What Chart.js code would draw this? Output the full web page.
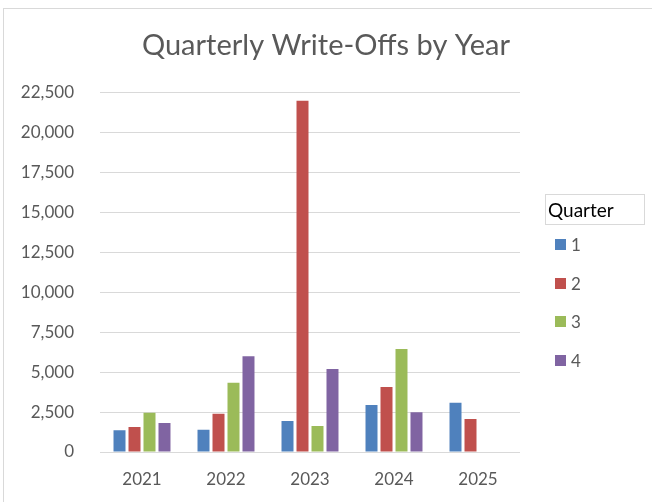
<!DOCTYPE html>
<html>
<head>
<meta charset="utf-8">
<script src="https://cdn.jsdelivr.net/npm/chart.js@4/dist/chart.umd.min.js"></script>
<style>
    html, body { margin: 0; padding: 0; background: #fff; }
    #wrap { position: relative; width: 652px; height: 502px; overflow: hidden; }
    #frame { position: absolute; left: 3px; top: 8px; width: 660px; height: 510px; border: 1px solid #d9d9d9; box-sizing: border-box; }
    #chart-canvas { position: absolute; left: 0; top: 0; }
    #custom-legend { position: absolute; left: 545px; top: 194px; font-family: Lato, sans-serif; }
    #legend-title { width: 100px; height: 31px; border: 1px solid #d9d9d9; box-sizing: border-box; font-size: 19px; color: #000; line-height: 29px; padding-left: 2px; }
</style>
</head>
<body>
<div id="wrap">
    <div id="frame"></div>
    <canvas id="chart-canvas" width="652" height="502"></canvas>
    <div id="custom-legend">
        <div id="legend-title">Quarter</div>
        <div id="legend-items"></div>
    </div>
</div>
<script>
const years = ['2021', '2022', '2023', '2024', '2025'];
const quarters = ['1', '2', '3', '4'];
const q1 = [1360, 1400, 1940, 2950, 3090];
const q2 = [1570, 2400, 22000, 4070, 2070];
const q3 = [2460, 4340, 1630, 6450, null];
const q4 = [1820, 6000, 5200, 2490, null];
const quarterColors = ['#4f81bd', '#c0504d', '#9bbb59', '#8064a2'];
const yTicks = [0, 2500, 5000, 7500, 10000, 12500, 15000, 17500, 20000, 22500];

const textColor = '#595959';
const gridColor = '#d9d9d9';
const fontFamily = 'Lato, sans-serif';

const seriesValues = [q1, q2, q3, q4];

const ctx = document.getElementById('chart-canvas').getContext('2d');
const chart = new Chart(ctx, {
    type: 'bar',
    data: {
        labels: years,
        datasets: quarters.map((q, i) => ({
            label: q,
            data: seriesValues[i],
            backgroundColor: quarterColors[i],
            borderWidth: 0,
            categoryPercentage: 0.714,
            barPercentage: 0.8
        }))
    },
    options: {
        responsive: false,
        animation: false,
        layout: {
            padding: 0
        },
        scales: {
            x: {
                grid: { display: false, drawTicks: false },
                border: { display: false },
                ticks: {
                    color: textColor,
                    font: { family: fontFamily, size: 17 },
                    padding: 17
                },
                afterFit: scale => { scale.height = 50; }
            },
            y: {
                min: 0,
                max: 22500,
                afterBuildTicks: scale => { scale.ticks = yTicks.map(v => ({ value: v })); },
                grid: { color: gridColor, lineWidth: 1, drawTicks: false },
                border: { display: false },
                ticks: {
                    color: textColor,
                    font: { family: fontFamily, size: 17 },
                    padding: 26,
                    callback: v => v.toLocaleString('en-US')
                },
                afterFit: scale => { scale.width = 100; }
            },
            // empty right-hand axis that reserves room for the legend column
            legendSpace: {
                position: 'right',
                grid: { display: false, drawTicks: false },
                border: { display: false },
                ticks: { display: false },
                afterFit: scale => { scale.width = 132; }
            }
        },
        plugins: {
            legend: { display: false },
            tooltip: { enabled: false },
            title: {
                display: true,
                text: 'Quarterly Write-Offs by Year',
                color: textColor,
                font: { family: fontFamily, size: 29, weight: 'normal' },
                padding: { top: 28, bottom: 30 }
            }
        }
    }
});

// Legend built as plain DOM, one row per quarter
function buildLegend() {
    const container = document.getElementById('legend-items');
    container.innerHTML = '';
    quarters.forEach((q, i) => {
        const row = document.createElement('div');
        row.style.display = 'flex';
        row.style.alignItems = 'center';
        row.style.height = '38.8px';
        row.style.marginLeft = '10px';

        const box = document.createElement('span');
        box.style.width = '11px';
        box.style.height = '11px';
        box.style.backgroundColor = quarterColors[i];
        box.style.marginRight = '5px';

        const label = document.createElement('span');
        label.textContent = q;
        label.style.fontSize = '17px';
        label.style.color = textColor;

        row.appendChild(box);
        row.appendChild(label);
        container.appendChild(row);
    });
}
buildLegend();
</script>
</body>
</html>
